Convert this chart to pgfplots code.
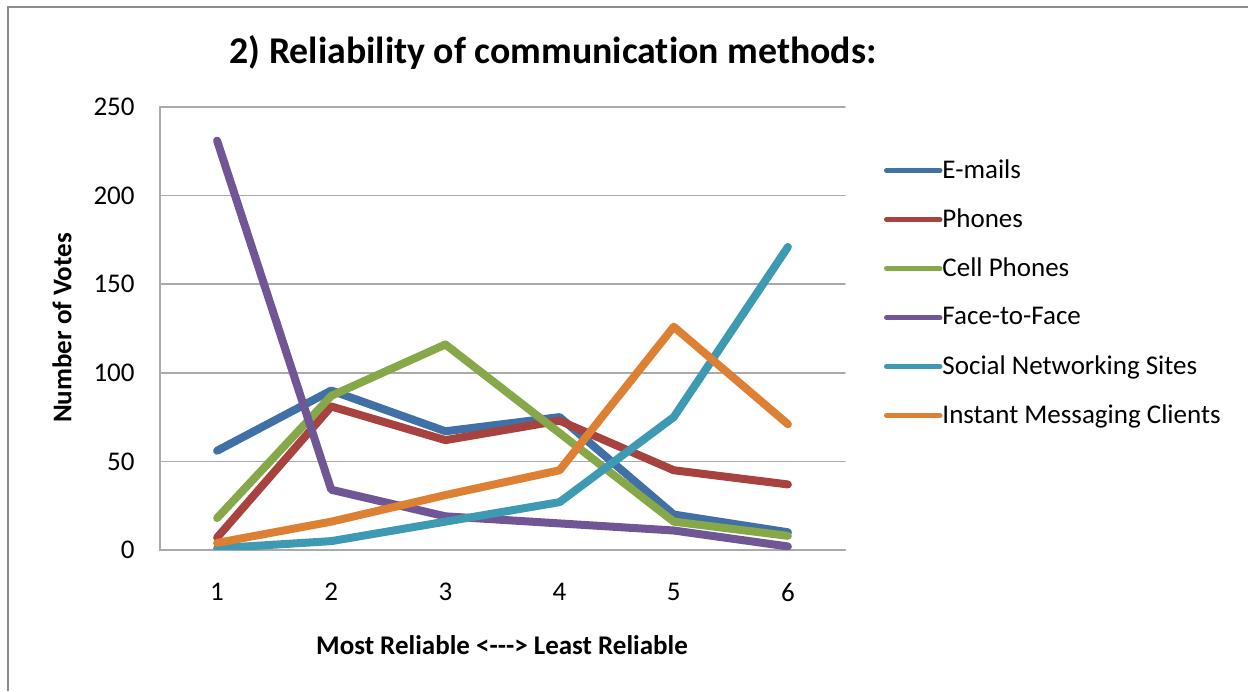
\documentclass[border=0pt]{standalone}
\usepackage{pgfplots}
\pgfplotsset{compat=1.18}
\usepackage{fontspec}
\setmainfont{Carlito}[Ligatures=NoCommon]
\definecolor{cEmail}{RGB}{64,112,166}
\definecolor{cPhone}{RGB}{168,66,63}
\definecolor{cCell}{RGB}{134,168,73}
\definecolor{cFace}{RGB}{112,86,148}
\definecolor{cSocial}{RGB}{62,154,178}
\definecolor{cIM}{RGB}{222,128,52}
\definecolor{frameGray}{RGB}{140,140,140}
\definecolor{gridGray}{RGB}{170,170,170}
\begin{document}
\begin{tikzpicture}[x=1pt,y=1pt]
\path[use as bounding box] (0pt,0pt) rectangle (624pt,345.5pt);
\draw[frameGray, line width=1pt] (4pt,0pt) -- (4pt,342pt) -- (624pt,342pt);
\node[font=\fontsize{18.9}{21}\selectfont\bfseries] at (276.5pt,319.5pt) {2) Reliability of communication methods:};
\node[font=\fontsize{13.5}{15}\selectfont\bfseries] at (251pt,23pt) {Most Reliable <-\kern0pt-\kern0pt-> Least Reliable};
\node[font=\fontsize{13.5}{15}\selectfont\bfseries, rotate=90] at (31pt,181.5pt) {Number of Votes};
\begin{axis}[
  at={(80pt,70.5pt)}, anchor=south west,
  scale only axis, width=342.5pt, height=221.5pt,
  xmin=0.5, xmax=6.5, ymin=0, ymax=250,
  xtick={1,2,3,4,5,6}, ytick={0,50,100,150,200,250},
  axis x line*=bottom, axis y line*=left,
  axis line style={gridGray, line width=1pt, -},
  ymajorgrids, grid style={gridGray, line width=0.8pt},
  major tick length=0pt,
  /pgf/number format/assume math mode=true,
  tick label style={font=\fontsize{13.5}{15}\selectfont, inner sep=0pt},
  xticklabel style={anchor=center, yshift=-21pt},
  yticklabel style={anchor=east, xshift=-12.5pt},
  line cap=round, line join=round,
  every axis plot/.append style={line width=4pt},
  legend style={at={(1.057,0.58)}, anchor=west, draw=none, fill=none,
    inner sep=0pt, outer sep=0pt,
    font=\fontsize{13.5}{15}\selectfont,
    nodes={inner sep=0pt, minimum height=24.5pt, anchor=west},
    /tikz/every even column/.append style={column sep=2.5pt}},
  legend cell align=left,
  legend image code/.code={\draw[#1, line width=2.2pt, line cap=round] (0pt,0pt) -- (27pt,0pt);},
]
\addplot[cEmail] coordinates {(1,56) (2,90) (3,67) (4,75) (5,20) (6,10)};
\addlegendentry{E-mails}
\addplot[cPhone] coordinates {(1,7) (2,81) (3,62) (4,73) (5,45) (6,37)};
\addlegendentry{Phones}
\addplot[cCell] coordinates {(1,18) (2,87) (3,116) (4,66) (5,16) (6,8)};
\addlegendentry{Cell Phones}
\addplot[cFace] coordinates {(1,231) (2,34) (3,19) (4,15) (5,11) (6,2)};
\addlegendentry{Face-to-Face}
\addplot[cSocial] coordinates {(1,1) (2,5) (3,16) (4,27) (5,75) (6,171)};
\addlegendentry{Social Networking Sites}
\addplot[cIM] coordinates {(1,4) (2,16) (3,31) (4,45) (5,126) (6,71)};
\addlegendentry{Instant Messaging Clients}
\end{axis}
\end{tikzpicture}
\end{document}
